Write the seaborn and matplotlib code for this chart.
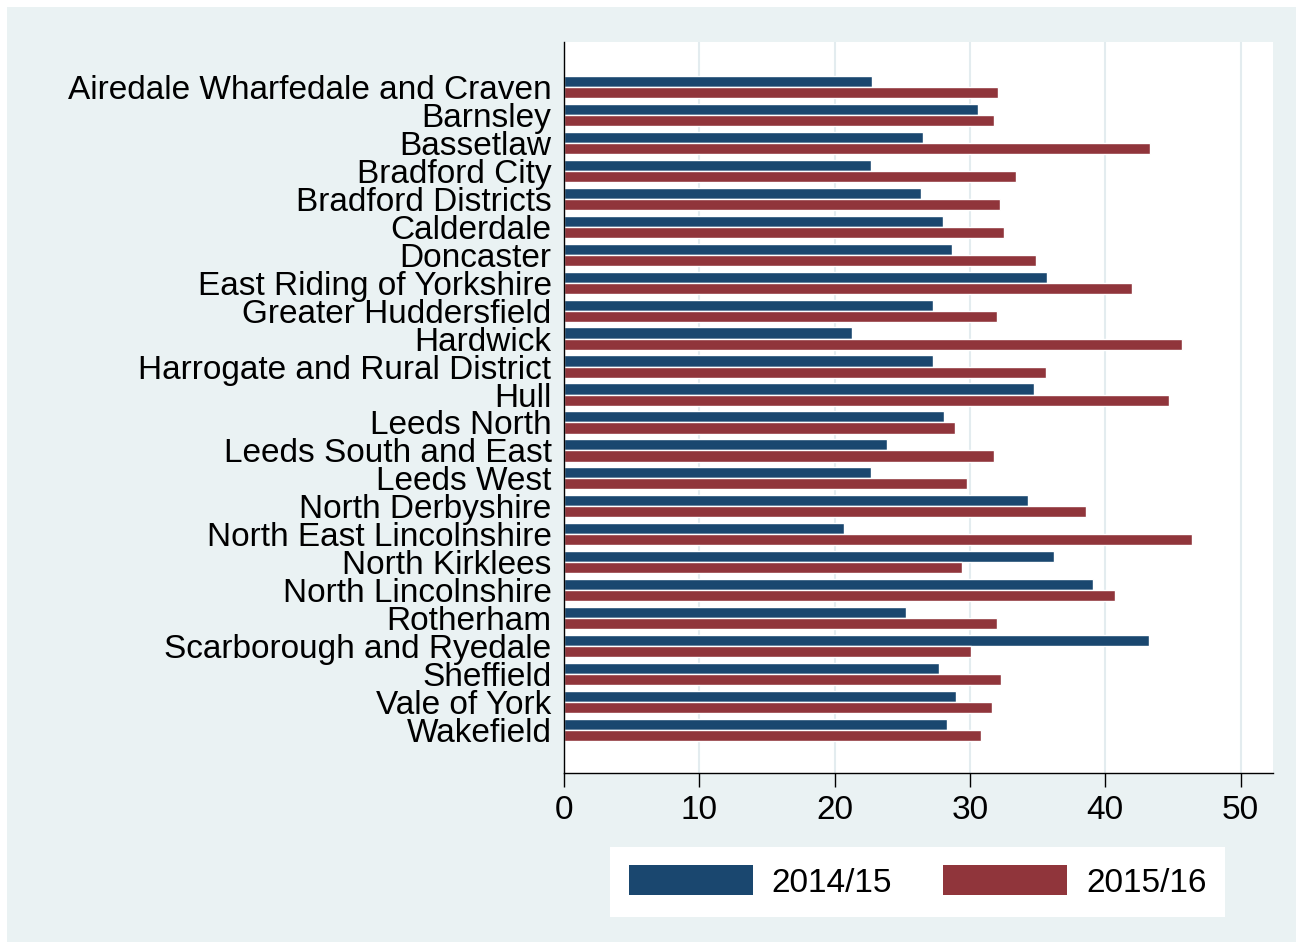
import pandas as pd
import numpy as np
import matplotlib.pyplot as plt
import seaborn as sns
from matplotlib.patches import Rectangle, Patch

# === Data ===
areas = [
    'Airedale Wharfedale and Craven', 'Barnsley', 'Bassetlaw', 'Bradford City',
    'Bradford Districts', 'Calderdale', 'Doncaster', 'East Riding of Yorkshire',
    'Greater Huddersfield', 'Hardwick', 'Harrogate and Rural District', 'Hull',
    'Leeds North', 'Leeds South and East', 'Leeds West', 'North Derbyshire',
    'North East Lincolnshire', 'North Kirklees', 'North Lincolnshire', 'Rotherham',
    'Scarborough and Ryedale', 'Sheffield', 'Vale of York', 'Wakefield',
]
years = ['2014/15', '2015/16']
values_1415 = [22.8, 30.6, 26.5, 22.7, 26.4, 28.0, 28.7, 35.7, 27.3, 21.3, 27.3, 34.7,
               28.1, 23.9, 22.7, 34.3, 20.7, 36.2, 39.1, 25.3, 43.2, 27.7, 29.0, 28.3]
values_1516 = [32.1, 31.8, 43.3, 33.4, 32.2, 32.5, 34.9, 42.0, 32.0, 45.7, 35.6, 44.7,
               28.9, 31.8, 29.8, 38.6, 46.4, 29.4, 40.7, 32.0, 30.1, 32.3, 31.6, 30.8]
x_ticks = [0, 10, 20, 30, 40, 50]

df = pd.DataFrame({
    'area': areas * 2,
    'year': [years[0]] * len(areas) + [years[1]] * len(areas),
    'value': values_1415 + values_1516,
})

# === Style ===
bg = '#EAF2F3'
c_blue = '#1A476F'
c_red = '#90353B'
sns.set_style('white')
plt.rcParams['font.family'] = ['Liberation Sans', 'DejaVu Sans']
plt.rcParams['text.color'] = 'black'
fs = 24

fig = plt.figure(figsize=(13.03, 9.49), dpi=100)
fig.patch.set_facecolor('white')
fig.patches.append(Rectangle((7 / 1303, 7 / 949), 1 - 14 / 1303, 1 - 14 / 949,
                             transform=fig.transFigure, facecolor=bg,
                             edgecolor='none', zorder=-10))

ax = fig.add_axes([564 / 1303, 1 - 773 / 949, (1273 - 564) / 1303, (773 - 42) / 949])
sns.barplot(data=df, y='area', x='value', hue='year', orient='h',
            palette=[c_blue, c_red], width=0.8, saturation=1, legend=False, ax=ax)

ax.set_facecolor('white')
ax.set_xlim(0, 52.4)
ax.set_ylim(len(areas) - 1 + 1.55, -1.62)
ax.set_xticks(x_ticks)
ax.set_xlabel('')
ax.set_ylabel('')
ax.xaxis.grid(True, color='#E3ECEF', linewidth=1.5)
ax.set_axisbelow(True)
for s in ['top', 'right']:
    ax.spines[s].set_visible(False)
for s in ['left', 'bottom']:
    ax.spines[s].set_color('black')
    ax.spines[s].set_linewidth(1)
ax.tick_params(axis='x', bottom=True, length=10, width=1, color='black',
               labelsize=fs, labelcolor='black', pad=6)
ax.tick_params(axis='y', length=0, labelsize=fs, labelcolor='black', pad=9)

# === Legend ===
handles = [Patch(facecolor=c_blue, edgecolor='none'), Patch(facecolor=c_red, edgecolor='none')]
leg = fig.legend(handles, years, loc='center',
                 bbox_to_anchor=((613 + 1222) / 2 / 1303, 1 - 882 / 949),
                 ncol=2, fontsize=fs, frameon=True, fancybox=False, framealpha=1,
                 handlelength=3.72, handleheight=1.0, handletextpad=0.57,
                 columnspacing=1.53, borderpad=0.55)
leg.get_frame().set_facecolor('white')
leg.get_frame().set_edgecolor('none')

fig.savefig('out.png', dpi=100, facecolor=fig.get_facecolor())
